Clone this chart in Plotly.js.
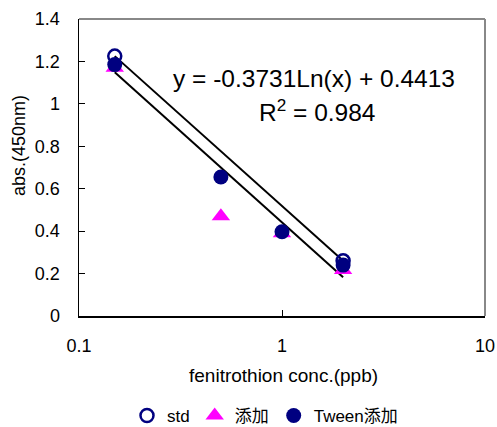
<!DOCTYPE html>
<html>
<head>
<meta charset="utf-8">
<script src="https://cdn.plot.ly/plotly-3.0.1.min.js"></script>
<style>html,body{margin:0;padding:0;background:#fff;}#chart{width:497px;height:427px;}</style>
</head>
<body>
<div id="chart"></div>
<script>
// ---- data ----
const concX = [0.15, 0.5, 1, 2];
const stdX = [0.15, 2];
const stdY = [1.225, 0.26];
const addY = [1.17, 0.47, 0.39, 0.217];
const tweenY = [1.185, 0.655, 0.397, 0.24];
const tweenFit = [-0.3731, 0.4413]; // slope, intercept of y = a Ln(x) + b
const tweenR2 = 0.984;
const xTicks = [0.1, 1, 10];
const xTickText = ['0.1', '1', '10'];
const yTicks = [0, 0.2, 0.4, 0.6, 0.8, 1, 1.2, 1.4];
const yTickText = ['0', '0.2', '0.4', '0.6', '0.8', '1', '1.2', '1.4'];
const seriesNames = ['std', '添加', 'Tween添加'];

// log-fit for std
function lnFit(xs, ys) {
  const lx = xs.map(Math.log);
  const n = xs.length;
  const mx = lx.reduce((a, b) => a + b, 0) / n;
  const my = ys.reduce((a, b) => a + b, 0) / n;
  let sxy = 0, sxx = 0;
  for (let i = 0; i < n; i++) { sxy += (lx[i] - mx) * (ys[i] - my); sxx += (lx[i] - mx) ** 2; }
  const a = sxy / sxx;
  return [a, my - a * mx];
}
const stdFit = lnFit(stdX, stdY);
const fitRange = [concX[0], concX[concX.length - 1]];
const evalFit = (f, xs) => xs.map(x => f[0] * Math.log(x) + f[1]);

const navy = '#000080';
const magenta = '#FF00FF';

const traces = [
  {x: fitRange, y: evalFit(stdFit, fitRange), mode: 'lines', line: {color: '#000', width: 2}, showlegend: false, hoverinfo: 'skip'},
  {x: fitRange, y: evalFit(tweenFit, fitRange), mode: 'lines', line: {color: '#000', width: 2}, showlegend: false, hoverinfo: 'skip'},
  {x: stdX, y: stdY, name: seriesNames[0], mode: 'markers', type: 'scatter',
   marker: {symbol: 'circle-open', size: 13, color: navy, line: {width: 2.5, color: navy}}},
  {x: concX, y: addY, name: seriesNames[1], mode: 'markers', type: 'scatter',
   marker: {symbol: 'triangle-up', size: 16, color: magenta}},
  {x: concX, y: tweenY, name: seriesNames[2], mode: 'markers', type: 'scatter',
   marker: {symbol: 'circle', size: 15, color: navy}}
];

const font = 'Liberation Sans, Arial, Noto Sans CJK JP, sans-serif';
const plotL = 79, plotR = 485, plotT = 19, plotB = 316;
const pw = plotR - plotL, ph = plotB - plotT;
const px = v => (v - plotL) / pw;
const py = v => (plotB - v) / ph;

const layout = {
  width: 497, height: 427,
  margin: {l: plotL, r: 497 - plotR, t: plotT, b: 427 - plotB, autoexpand: false},
  paper_bgcolor: '#fff', plot_bgcolor: '#fff',
  font: {family: font, size: 17, color: '#000'},
  showlegend: true,
  legend: {orientation: 'h', x: px(265), xanchor: 'center', y: py(416), yanchor: 'middle',
           font: {family: font, size: 17, color: '#000'}, itemwidth: 30, tracegroupgap: 0,
           bgcolor: 'rgba(0,0,0,0)'},
  xaxis: {type: 'log', range: [-1, 1], tickvals: xTicks, ticktext: xTickText,
          ticks: 'inside', ticklen: 6, tickcolor: '#000', showgrid: false, zeroline: false,
          showline: true, linecolor: '#000', linewidth: 1.5, ticklabelstandoff: 13,
          tickfont: {size: 18}},
  yaxis: {range: [0, 1.4], tickvals: yTicks, ticktext: yTickText,
          ticks: 'inside', ticklen: 6, tickcolor: '#000', showgrid: false, zeroline: false,
          showline: true, linecolor: '#000', linewidth: 1.5, ticklabelstandoff: 14,
          tickfont: {size: 18}},
  shapes: [
    {type: 'line', xref: 'paper', yref: 'paper', x0: 0, x1: 1, y0: 1, y1: 1, line: {color: '#888', width: 2}, layer: 'below'},
    {type: 'line', xref: 'paper', yref: 'paper', x0: 1, x1: 1, y0: 0, y1: 1, line: {color: '#888', width: 2}, layer: 'below'}
  ],
  annotations: [
    {xref: 'paper', yref: 'paper', x: px(283), y: py(375), xanchor: 'center', yanchor: 'middle', showarrow: false,
     text: 'fenitrothion conc.(ppb)', font: {size: 19}},
    {xref: 'paper', yref: 'paper', x: px(19), y: py(145), xanchor: 'center', yanchor: 'middle', showarrow: false,
     text: 'abs.(450nm)', textangle: -90, font: {size: 18}},
    {xref: 'paper', yref: 'paper', x: px(314), y: py(78), xanchor: 'center', yanchor: 'middle', showarrow: false,
     text: 'y = -' + Math.abs(tweenFit[0]).toFixed(4) + 'Ln(x) + ' + tweenFit[1].toFixed(4), font: {size: 24.5}},
    {xref: 'paper', yref: 'paper', x: px(317), y: py(110), xanchor: 'center', yanchor: 'middle', showarrow: false,
     text: 'R<sup>2</sup> = ' + tweenR2.toFixed(3), font: {size: 24.5}}
  ]
};

Plotly.newPlot('chart', traces, layout, {displayModeBar: false, staticPlot: true});
</script>
</body>
</html>
